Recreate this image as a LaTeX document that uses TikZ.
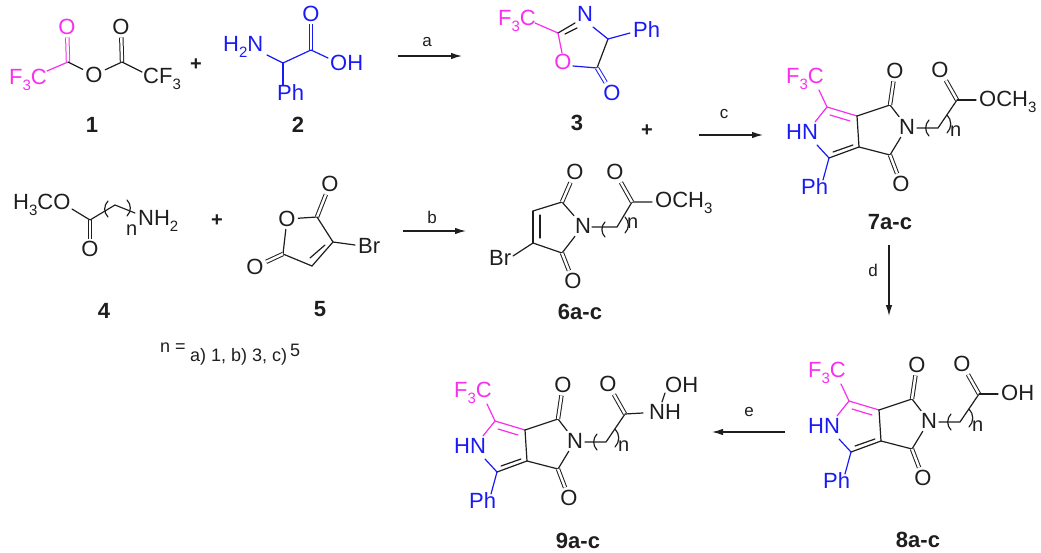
\documentclass[tikz,border=0pt]{standalone}
\usepackage{fontspec}
\setmainfont{Liberation Sans}
\usetikzlibrary{arrows.meta}
\definecolor{pk}{HTML}{F72FEF}
\definecolor{bl}{HTML}{1A1AF5}
\definecolor{ink}{HTML}{1E1E1E}
\newcommand\sbs[1]{\raisebox{-.27em}{\fontsize{15}{15}\selectfont #1}}
\tikzset{
  atm/.style={inner sep=2.5pt,font=\fontsize{22}{22}\selectfont,text=ink},
  grp/.style={inner sep=0pt,anchor=base west,font=\fontsize{22}{22}\selectfont,text=ink},
  cmpd/.style={inner sep=0pt,font=\fontsize{22}{22}\selectfont\bfseries,text=ink},
  rlab/.style={inner sep=0pt,font=\fontsize{17}{17}\selectfont,text=ink},
  nlab/.style={inner sep=0pt,anchor=base west,font=\fontsize{20}{20}\selectfont,text=ink},
  note/.style={inner sep=0pt,anchor=base west,font=\fontsize{18}{18}\selectfont,text=ink},
  plus/.style={inner sep=0pt,font=\fontsize{20}{20}\selectfont\bfseries,text=ink},
  bond/.style={line width=1.2pt,draw=ink,line cap=round},
  dbl/.style={bond,double=white,double distance=2.4pt,line width=1pt,line cap=butt},
  rxn/.style={line width=1.2pt,draw=ink,-{Latex[length=11pt,width=6.5pt]}},
  pnk/.style={draw=pk},
  blu/.style={draw=bl},
}
\newcommand\cd[3]{\coordinate (#1) at (#2,#3);}
\newcommand\lpar[3]{\draw[bond] (#1,#2) to[bend right=45] (#1,#3);}
\newcommand\rpar[3]{\draw[bond] (#1,#2) to[bend left=45] (#1,#3);}
% bicyclic core with side chain; #1 name prefix, #2 #3 shift
\newcommand\core[3]{%
\begin{scope}[shift={(#2,#3)}]
  \cd{#1a}{827}{107}\cd{#1b}{857}{116}\cd{#1c}{859}{147}\cd{#1d}{829}{158}
  \cd{#1e}{890}{105}\cd{#1f}{890}{155}
  \cd{#1a2}{830}{115}\cd{#1b2}{850}{121}\cd{#1c2}{853}{145}\cd{#1d2}{833}{152}
  \cd{#1cf}{819}{90}\cd{#1h1}{815}{122}\cd{#1h2}{817}{145}\cd{#1ph}{823}{180}
  \cd{#1g}{917}{128}\cd{#1k}{938}{128}\cd{#1t}{957}{100}
  \node[grp,text=pk] (#1CF) at (786,83.5) {F\sbs{3}C};
  \node[grp,text=bl] (#1HN) at (786,139.5) {HN};
  \node[grp,text=bl] (#1PH) at (801,194.5) {Ph};
  \node[atm] (#1N) at (907,127) {N};
  \node[atm] (#1O1) at (895,71) {O};
  \node[atm] (#1O2) at (901,184) {O};
  \node[atm] (#1O3) at (940,70) {O};
  \node[nlab] (#1n) at (950,137) {n};
  \draw[bond,pnk] (#1cf) -- (#1a);
  \draw[bond,pnk] (#1a) -- (#1h1);
  \draw[bond,pnk] (#1a) -- (#1b);
  \draw[bond,pnk] (#1a2) -- (#1b2);
  \draw[bond,blu] (#1h2) -- (#1d);
  \draw[bond,blu] (#1d) -- (#1ph);
  \draw[bond] (#1b) -- (#1c);
  \draw[bond] (#1c) -- (#1d);
  \draw[bond] (#1c2) -- (#1d2);
  \draw[bond] (#1b) -- (#1e);
  \draw[bond] (#1c) -- (#1f);
  \draw[bond] (#1e) -- (#1N);
  \draw[bond] (#1f) -- (#1N);
  \draw[dbl] (#1e) -- (#1O1);
  \draw[dbl] (#1f) -- (#1O2);
  \draw[bond] (#1g) -- (#1k) -- (#1t);
  \draw[dbl] (#1t) -- (#1O3);
  \lpar{929}{120}{136}
  \rpar{947}{115}{133}
\end{scope}}
\begin{document}
\begin{tikzpicture}[x=1pt,y=-1pt]
\useasboundingbox (0,0) rectangle (1041,553);
% ---- 1
\cd{c1f}{47}{71}\cd{c1a}{68}{62}\cd{c1b}{122}{62}\cd{c1g}{142}{72}
\node[grp,text=pk] (F1) at (9,85) {F\sbs{3}C};
\node[atm,text=pk] (O1a) at (67,27) {O};
\node[atm] (O1b) at (94,75) {O};
\node[atm] (O1c) at (121,27) {O};
\node[grp] (F1b) at (143,84) {CF\sbs{3}};
\draw[bond,pnk] (c1f) -- (c1a);
\draw[dbl,pnk] (c1a) -- (O1a);
\draw[bond] (c1a) -- (O1b);
\draw[bond] (O1b) -- (c1b);
\draw[dbl] (c1b) -- (O1c);
\draw[bond] (c1b) -- (c1g);
\node[plus] (p1) at (196,65) {+};
\node[cmpd] (L1) at (92,125) {1};
% ---- 2
\cd{c2n}{267}{55}\cd{c2a}{283}{63}\cd{c2b}{311}{50}\cd{c2h}{328}{58}\cd{c2p}{283}{85}
\node[grp,text=bl] (N2) at (223,52) {H\sbs{2}N};
\node[atm,text=bl] (O2) at (311,14) {O};
\node[grp,text=bl] (OH2) at (330,70.5) {OH};
\node[grp,text=bl] (P2) at (277,101) {Ph};
\draw[bond,blu] (c2n) -- (c2a);
\draw[bond,blu] (c2a) -- (c2b);
\draw[dbl,blu] (c2b) -- (O2);
\draw[bond,blu] (c2b) -- (c2h);
\draw[bond,blu] (c2a) -- (c2p);
\node[cmpd] (L2) at (298,125) {2};
% ---- arrow a
\cd{a1}{398}{56}\cd{a2}{462}{56}
\draw[rxn] (a1) -- (a2);
\node[rlab] (la) at (427,42) {a};
% ---- 3
\cd{c3f}{535}{23}\cd{c3a}{558}{33}\cd{c3n}{575}{23}\cd{c3a2}{565}{34}\cd{c3n2}{577}{28}
\cd{c3o}{562}{53}\cd{c3p}{573}{66}\cd{c3q}{597}{68}\cd{c3r}{608}{39}\cd{c3s}{593}{27}\cd{c3t}{630}{33}
\node[grp,text=pk] (F3) at (498,26) {F\sbs{3}C};
\node[atm,text=bl] (N3) at (585,14) {N};
\node[atm,text=pk] (O3) at (563,62) {O};
\node[atm,text=bl] (O3b) at (612,93) {O};
\node[grp,text=bl] (P3) at (633,37.5) {Ph};
\draw[bond,pnk] (c3f) -- (c3a);
\draw[bond] (c3a) -- (c3n);
\draw[bond] (c3a2) -- (c3n2);
\draw[bond,pnk] (c3a) -- (c3o);
\draw[bond,blu] (c3p) -- (c3q);
\draw[bond] (c3q) -- (c3r);
\draw[bond,blu] (c3r) -- (c3s);
\draw[bond,blu] (c3r) -- (c3t);
\draw[dbl,blu] (c3q) -- (O3b);
\node[cmpd] (L3) at (577,123) {3};
\node[plus] (p3) at (647,131) {+};
% ---- arrow c
\cd{c1}{699}{135}\cd{c2}{763}{135}
\draw[rxn] (c1) -- (c2);
\node[rlab] (lc) at (724,114) {c};
% ---- 7
\core{s}{0}{0}
\cd{s7}{976}{100}
\draw[bond] (st) -- (s7);
\node[grp] (R7) at (979,106.5) {OCH\sbs{3}};
\node[cmpd] (L7) at (890,222) {7a-c};
% ---- arrow d
\cd{d1}{889}{245}\cd{d2}{889}{316}
\draw[rxn] (d1) -- (d2);
\node[rlab] (ld) at (873,270) {d};
% ---- 4
\cd{c4o}{72}{209}\cd{c4a}{90}{220}\cd{c4b}{115}{205}\cd{c4c}{135}{213}
\node[grp] (M4) at (13,209.5) {H\sbs{3}CO};
\node[atm] (O4) at (90,249) {O};
\node[grp] (N4) at (138,225.5) {NH\sbs{2}};
\node[nlab] (n4) at (126,236) {n};
\draw[bond] (c4o) -- (c4a);
\draw[dbl] (c4a) -- (O4);
\draw[bond] (c4a) -- (c4b) -- (c4c);
\lpar{108}{201}{217}
\rpar{127}{200}{216}
\node[plus] (p4) at (217,221) {+};
\node[cmpd] (L4) at (104,311) {4};
% ---- 5
\cd{c5a}{317}{217}\cd{c5b}{333}{242}\cd{c5c}{312}{266}\cd{c5d}{283}{254}
\cd{c5b2}{325}{245}\cd{c5c2}{310}{258}\cd{c5r}{355}{245}
\node[atm] (O5) at (287,219) {O};
\node[atm] (O5a) at (330,184) {O};
\node[atm] (O5b) at (255,267) {O};
\node[grp] (B5) at (358,254) {Br};
\draw[bond] (O5) -- (c5a);
\draw[dbl] (c5a) -- (O5a);
\draw[bond] (c5a) -- (c5b);
\draw[bond] (c5b) -- (c5c);
\draw[bond] (c5b2) -- (c5c2);
\draw[bond] (c5c) -- (c5d);
\draw[bond] (c5d) -- (O5);
\draw[dbl] (c5d) -- (O5b);
\draw[bond] (c5b) -- (c5r);
\node[cmpd] (L5) at (320,309) {5};
% ---- note
\node[note] (t1) at (160,352) {n =};
\node[note] (t2) at (190,361) {a) 1, b) 3, c)};
\node[note] (t3) at (290,356) {5};
% ---- arrow b
\cd{b1}{403}{231}\cd{b2}{466}{231}
\draw[rxn] (b1) -- (b2);
\node[rlab] (lb) at (432,217) {b};
% ---- 6
\cd{c6a}{562}{202}\cd{c6b}{533}{211}\cd{c6c}{533}{243}\cd{c6d}{562}{253}
\cd{c6b2}{540}{215}\cd{c6c2}{540}{238}\cd{c6r}{513}{256}
\cd{c6g}{592}{227}\cd{c6k}{617}{227}\cd{c6t}{632}{202}\cd{c6e}{652}{202}
\node[atm] (N6) at (583,226) {N};
\node[atm] (O6a) at (575,172) {O};
\node[atm] (O6b) at (573,281) {O};
\node[atm] (O6c) at (615,172) {O};
\node[grp] (B6) at (489,266) {Br};
\node[grp] (R6) at (655,207.5) {OCH\sbs{3}};
\node[nlab] (n6) at (627,229) {n};
\draw[bond] (c6a) -- (N6);
\draw[bond] (c6d) -- (N6);
\draw[bond] (c6a) -- (c6b);
\draw[bond] (c6b) -- (c6c);
\draw[bond] (c6b2) -- (c6c2);
\draw[bond] (c6c) -- (c6d);
\draw[bond] (c6c) -- (c6r);
\draw[dbl] (c6a) -- (O6a);
\draw[dbl] (c6d) -- (O6b);
\draw[bond] (c6g) -- (c6k) -- (c6t) -- (c6e);
\draw[dbl] (c6t) -- (O6c);
\lpar{605}{222}{237}
\rpar{625}{217}{233}
\node[cmpd] (L6) at (580,312) {6a-c};
% ---- 8
\core{u}{22}{294}
\cd{u7}{998}{394}
\draw[bond] (ut) -- (u7);
\node[grp] (R8) at (1001,400) {OH};
\node[cmpd] (L8) at (918,540) {8a-c};
% ---- arrow e
\cd{e1}{785}{432}\cd{e2}{712}{432}
\draw[rxn] (e1) -- (e2);
\node[rlab] (le) at (749,412) {e};
% ---- 9
\core{v}{-332}{314}
\cd{v7}{643}{413}\cd{v8}{662}{402}\cd{v9}{665}{393}
\draw[bond] (vt) -- (v7);
\draw[bond] (v8) -- (v9);
\node[grp] (R9n) at (649,419.5) {NH};
\node[grp] (R9o) at (665,392.5) {OH};
\node[cmpd] (L9) at (578,541) {9a-c};
\end{tikzpicture}
\end{document}
